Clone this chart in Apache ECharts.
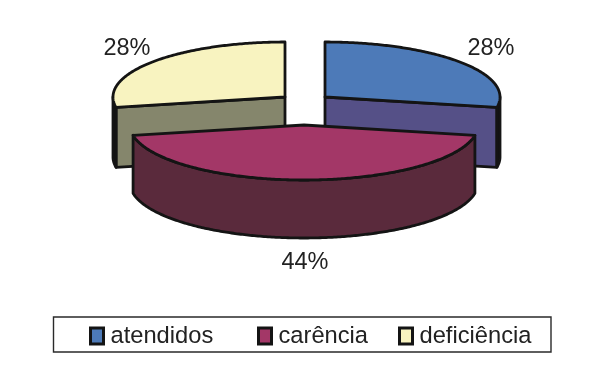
<!DOCTYPE html>
<html>
<head>
<meta charset="utf-8">
<style>html,body{margin:0;padding:0;background:#fff}#c{width:590px;height:372px}</style>
<script src="https://cdn.jsdelivr.net/npm/echarts@6/dist/echarts.min.js"></script>
</head>
<body>
<div id="c"></div>
<script>
// data
var categories = ['atendidos', 'carência', 'deficiência'];
var values = [28, 44, 28];

// styles and layout
var topColors  = ['#4D7AB8', '#A33767', '#F8F3C0'];
var faceColors = ['#555087', null, '#85866C'];
var wallColors = ['#111111', '#5A2A3C', '#111111'];
var centersX = [325, 304, 285];
var centersY = [97, 125, 97];
var radiiX = [175, 174, 172];
var depths = [60, 58, 60];
var labelX = [491, 305, 127];
var labelY = [49, 263, 49];
var legendLeft = [89, 257, 398];
var RY = 55;
var STROKE = '#141414', LW = 2.8;
var total = values.reduce(function (a, b) { return a + b; }, 0);

function angles(i) {
  var s = 0;
  for (var k = 0; k < i; k++) s += values[k];
  return [s / total * 360, (s + values[i]) / total * 360];
}
function pt(i, deg, dz) {
  var r = deg * Math.PI / 180;
  return [centersX[i] + radiiX[i] * Math.sin(r), centersY[i] - RY * Math.cos(r) + (dz || 0)];
}
function arc(i, a, b, dz) {
  var out = [], n = Math.max(2, Math.ceil(Math.abs(b - a) * 1.5));
  for (var k = 0; k <= n; k++) out.push(pt(i, a + (b - a) * k / n, dz));
  return out;
}
function poly(points, fill) {
  return {
    type: 'polygon',
    shape: { points: points },
    style: { fill: fill, stroke: STROKE, lineWidth: LW, lineJoin: 'round' }
  };
}
function makeRender(i) {
  return function () {
    var a = angles(i), children = [];
    var apex = [centersX[i], centersY[i]];
    var apexLow = [centersX[i], centersY[i] + depths[i]];
    // radial cut face turned to the viewer
    if (faceColors[i]) {
      var edge = i === 0 ? a[1] : a[0];
      children.push(poly([apex, pt(i, edge), pt(i, edge, depths[i]), apexLow], faceColors[i]));
    }
    // outer wall: only the part of the rim facing the viewer
    var from = Math.max(a[0], 90), to = Math.min(a[1], 270);
    if (to > from) {
      children.push(poly(arc(i, from, to, 0).concat(arc(i, to, from, depths[i])), wallColors[i]));
    }
    // top surface
    children.push(poly([apex].concat(arc(i, a[0], a[1], 0)), topColors[i]));
    children.push({
      type: 'text',
      style: {
        text: values[i] + '%', x: labelX[i], y: labelY[i],
        align: 'center', verticalAlign: 'middle',
        font: '23.5px "Liberation Sans", Arial, sans-serif', fill: '#222222'
      }
    });
    return { type: 'group', children: children };
  };
}

var seriesList = categories.map(function (name, i) {
  return {
    type: 'custom',
    name: name,
    coordinateSystem: 'none',
    z: i === 1 ? 3 : 2,
    silent: true,
    animation: false,
    clip: false,
    itemStyle: { color: topColors[i] },
    data: [[values[i]]],
    renderItem: makeRender(i)
  };
});

var legends = categories.map(function (name, i) {
  return {
    data: [name],
    left: legendLeft[i],
    top: 324,
    padding: 0,
    icon: 'rect',
    itemWidth: 13,
    itemHeight: 16,
    itemGap: 0,
    selectedMode: false,
    itemStyle: { borderColor: '#141414', borderWidth: 3 },
    textStyle: {
      fontFamily: '"Liberation Sans", Arial, sans-serif',
      fontSize: 23.7, color: '#222222', padding: [2, 0, 0, 2]
    }
  };
});

var chart = echarts.init(document.getElementById('c'), null, { renderer: 'canvas' });
chart.setOption({
  backgroundColor: '#ffffff',
  animation: false,
  tooltip: { show: false },
  legend: legends,
  graphic: [{
    type: 'rect',
    shape: { x: 53.5, y: 317, width: 497.5, height: 35 },
    style: { fill: '#ffffff', stroke: '#2a2a2a', lineWidth: 1.4 },
    z: 0, silent: true
  }],
  series: seriesList
});
</script>
</body>
</html>
